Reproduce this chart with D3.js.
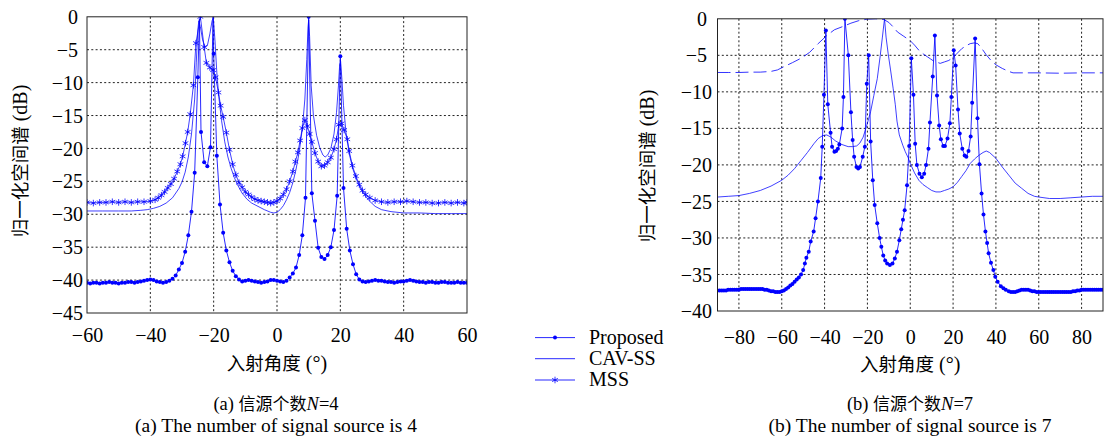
<!DOCTYPE html>
<html>
<head>
<meta charset="utf-8">
<script src="https://cdn.jsdelivr.net/npm/d3@7"></script>
<style>
  body { margin: 0; background: #fff; }
  svg text { font-family: "Liberation Serif", serif; fill: #000; }
  .cjk { font-family: "Noto Sans CJK SC", sans-serif; }
</style>
</head>
<body>
<svg id="chart" width="1104" height="439"></svg>
<script>
// ---- panel (a): N = 4 ----
var xTicksA = [-60, -40, -20, 0, 20, 40, 60];
var yTicksA = [0, -5, -10, -15, -20, -25, -30, -35, -40, -45];

// Proposed, marked samples
var proposedA = [[-60,-40.4],[-59,-40.5],[-58,-40.4],[-57,-40.4],[-56,-40.5],[-55,-40.4],[-54,-40.4],[-53,-40.3],[-52,-40.4],[-51,-40.4],
  [-50,-40.5],[-49,-40.4],[-48,-40.4],[-47,-40.3],[-46,-40.3],[-45,-40.4],[-44,-40.3],[-43,-40.2],[-42,-40.1],[-41,-40.0],
  [-40,-39.9],[-39,-40.0],[-38,-40.2],[-37,-40.3],[-36,-40.4],[-35,-40.3],[-34,-40.1],[-33,-39.8],[-32,-39.3],[-31,-38.4],
  [-30,-37.4],[-29,-35.7],[-28,-33.2],[-27,-29.6],[-26,-23.7],[-25,-9.2],[-24,-17.5],[-23,-22.1],[-22,-22.7],[-21,-19.8],
  [-20,-5.6],[-19,-21.1],[-18,-28.5],[-17,-32.8],[-16,-35.5],[-15,-37.3],[-14,-38.6],[-13,-39.4],[-12,-39.9],[-11,-40.2],
  [-10,-40.1],[-9,-40.0],[-8,-40.1],[-7,-40.2],[-6,-40.3],[-5,-40.4],[-4,-40.3],[-3,-40.2],[-2,-40.0],[-1,-40.0],
  [0,-40.1],[1,-40.2],[2,-40.3],[3,-40.1],[4,-39.6],[5,-39.0],[6,-38.1],[7,-36.2],[8,-33.2],[9,-27.5],
  [10,0],[11,-26.8],[12,-31.0],[13,-35.1],[14,-36.5],[15,-36.8],[16,-36.2],[17,-35.0],[18,-32.4],[19,-27.2],
  [20,-6.0],[21,-26.0],[22,-32.2],[23,-35.5],[24,-37.6],[25,-39.1],[26,-39.9],[27,-40.2],[28,-40.3],[29,-40.2],
  [30,-40.1],[31,-40.0],[32,-40.1],[33,-40.1],[34,-40.2],[35,-40.3],[36,-40.3],[37,-40.4],[38,-40.3],[39,-40.2],
  [40,-40.2],[41,-40.1],[42,-40.0],[43,-40.1],[44,-40.2],[45,-40.3],[46,-40.3],[47,-40.4],[48,-40.3],[49,-40.3],
  [50,-40.4],[51,-40.4],[52,-40.3],[53,-40.3],[54,-40.4],[55,-40.4],[56,-40.4],[57,-40.3],[58,-40.4],[59,-40.4],[60,-40.4]];
// Proposed, peak samples between the marks (line only)
var proposedPeaksA = [[-24.5,-0.3],[-20.2,0]];

var cavA = [[-60,-29.5],[-55,-29.5],[-50,-29.5],[-46,-29.5],[-43,-29.4],[-41,-29.3],[-39,-29.1],[-37,-28.8],[-35,-28.3],[-33,-27.5],
  [-31,-26.1],[-30,-25.1],[-29,-23.6],[-28,-21.3],[-27,-17.8],[-26,-12.5],[-25.5,-7.0],[-25,-2.0],[-24.7,-0.6],[-24.2,-1.5],
  [-23.5,-3.5],[-22.8,-4.6],[-22,-4.4],[-21.2,-2.6],[-20.5,-0.6],[-20.1,-0.2],[-19.6,-3.5],[-19,-8.5],[-18.3,-12.5],[-17.5,-15.8],
  [-16.5,-19.0],[-15.5,-21.3],[-14.5,-23.0],[-13.5,-24.4],[-12.5,-25.5],[-11,-26.8],[-9.5,-27.7],[-8,-28.3],[-6,-28.8],[-4,-29.3],
  [-2,-29.7],[-1,-29.8],[0,-29.7],[1,-29.3],[2,-28.7],[3,-27.8],[4,-26.7],[5,-25.2],[6,-23.2],[7,-20.6],
  [8,-17.0],[8.8,-12.5],[9.4,-6.5],[9.8,-1.5],[10,-0.5],[10.3,-3.0],[10.8,-10.5],[11.5,-15.0],[12.5,-18.0],[13.5,-19.9],
  [14.5,-21.0],[15.2,-21.3],[16,-21.0],[17,-20.0],[18,-17.8],[18.8,-14.5],[19.4,-10.5],[19.8,-7.2],[20.1,-6.8],[20.5,-9.5],
  [21,-13.5],[21.8,-17.6],[22.8,-20.8],[24,-23.2],[25.5,-25.2],[27,-26.6],[29,-27.9],[31,-28.8],[33,-29.3],[36,-29.6],
  [40,-29.8],[45,-29.8],[50,-29.9],[55,-29.9],[60,-29.9]];

var mssA = [[-60,-28.2],[-58,-28.3],[-56,-28.2],[-54,-28.2],[-52,-28.1],[-50,-28.2],[-48,-28.1],[-46,-28.2],[-44,-28.1],[-42,-28.1],
  [-40,-28.0],[-38.5,-27.8],[-37.5,-27.5],[-36.5,-27.1],[-35.5,-26.6],[-34.5,-26.0],[-33.5,-25.4],[-32.5,-24.6],[-31.5,-23.5],[-30.5,-22.4],
  [-29.8,-21.2],[-28.9,-19.2],[-28.2,-17.5],[-27.4,-14.8],[-26.4,-10.4],[-25.6,-4.0],[-24.2,0],[-23,-4.6],[-22.3,-7.0],[-21.2,-7.7],
  [-20.2,-8.1],[-19.4,-9.2],[-18.5,-11.5],[-17.8,-13.5],[-17,-15.2],[-16,-17.6],[-15,-20.2],[-14,-22.4],[-13,-24.0],[-12,-25.2],
  [-11,-25.9],[-10,-26.6],[-9,-27.0],[-8,-27.4],[-7,-27.7],[-6,-27.9],[-5,-28.0],[-4,-28.1],[-3,-28.2],[-2,-28.3],
  [-1,-28.2],[0,-28.0],[1,-27.6],[2,-27.0],[3,-26.2],[4,-25.0],[5,-23.5],[5.8,-22.0],[6.6,-20.6],[7.3,-18.8],
  [8,-16.9],[8.8,-15.7],[9.6,-16.6],[10.3,-17.8],[11,-19.0],[12,-20.7],[13,-22.0],[14,-22.7],[15,-22.6],[16,-22.1],
  [17,-21.4],[18,-20.1],[18.8,-18.6],[19.5,-16.4],[20.4,-16.2],[21.2,-17.2],[22.2,-18.6],[22.8,-20.4],[23.8,-22.6],[24.9,-24.2],
  [26,-25.5],[27,-26.4],[28,-27.0],[29.3,-27.5],[31,-27.9],[33,-28.1],[35,-28.2],[37,-28.1],[39,-28.1],[41,-28.0],
  [43,-28.1],[45,-28.2],[47,-28.2],[49,-28.3],[51,-28.3],[53,-28.2],[55,-28.3],[57,-28.2],[59,-28.3],[60,-28.2]];

// ---- panel (b): N = 7 ----
var xTicksB = [-80, -60, -40, -20, 0, 20, 40, 60, 80];
var yTicksB = [0, -5, -10, -15, -20, -25, -30, -35, -40];

var proposedB = [[-90,-37.2],[-89,-37.2],[-88,-37.2],[-87,-37.2],[-86,-37.2],[-85,-37.1],[-84,-37.1],[-83,-37.1],[-82,-37.1],[-81,-37.1],
  [-80,-37.1],[-79,-37.0],[-78,-37.0],[-77,-37.0],[-76,-37.0],[-75,-37.0],[-74,-37.0],[-73,-37.0],[-72,-37.0],[-71,-37.0],
  [-70,-37.0],[-69,-37.0],[-68,-37.1],[-67,-37.1],[-66,-37.2],[-65,-37.3],[-64,-37.3],[-63,-37.4],[-62,-37.4],[-61,-37.4],
  [-60,-37.3],[-59,-37.2],[-58,-37.0],[-57,-36.8],[-56,-36.5],[-55,-36.3],[-54,-36.0],[-53,-35.7],[-52,-35.4],[-51,-35.0],
  [-50,-34.4],[-49.2,-33.5],[-48.5,-32.7],[-47.4,-31.9],[-46.5,-30.5],[-45.1,-29.1],[-44.2,-27.3],[-43.1,-25.0],[-41.8,-21.8],[-41.1,-17.5],
  [-40.3,-10.4],[-39.4,-1.6],[-38.5,-11.7],[-37.2,-15.6],[-36.5,-17.5],[-35.4,-18.2],[-34.6,-18.1],[-33.8,-17.8],[-33.1,-17.2],[-31.8,-15.0],
  [-31.2,-10.7],[-30.5,0],[-28.9,-5.0],[-27.7,-12.8],[-26.9,-16.6],[-26.2,-18.9],[-25.1,-20.3],[-24.3,-20.5],[-23.5,-20.3],[-22.2,-18.9],
  [-21.2,-17.5],[-20.3,-8.9],[-19.4,-5.0],[-18.5,-16.8],[-17.5,-22.1],[-16.6,-25.5],[-15.4,-28.0],[-14.3,-30.0],[-13.5,-31.2],[-12.6,-32.4],
  [-11.7,-33.1],[-10.8,-33.5],[-9.5,-33.7],[-8.3,-33.5],[-7.2,-32.8],[-6.2,-31.9],[-5.1,-30.3],[-4.2,-28.8],[-3.4,-27.5],[-2.6,-26.2],
  [-1.5,-22.8],[-0.5,-17.4],[0.5,-5.4],[1.5,-10.4],[2.3,-17.1],[3.1,-20.0],[4.3,-21.2],[5.4,-21.7],[6.5,-21.2],[7.4,-20.0],
  [8.5,-17.8],[9.2,-14.2],[10.5,-7.9],[11.5,-2.3],[12.5,-10.5],[13.5,-14.6],[14.3,-16.5],[15.4,-17.4],[16.2,-17.4],[17.4,-16.4],
  [18.5,-14.3],[19.2,-10.7],[20.3,-4.3],[21.2,-6.4],[22.3,-12.4],[23.1,-15.7],[24.3,-17.8],[25.4,-18.7],[26.2,-18.9],[27.2,-18.1],
  [28.2,-16.1],[28.9,-11.5],[30.3,-2.7],[31.4,-13.6],[32.3,-19.9],[33.3,-23.9],[34.2,-26.8],[35.1,-29.1],[35.9,-30.7],[36.6,-32.1],
  [37.7,-33.4],[38.8,-34.4],[39.7,-35.3],[40.8,-36.0],[42.3,-36.6],[43.5,-36.9],[44.6,-37.1],[46,-37.3],[47,-37.4],[48,-37.4],
  [49,-37.4],[50,-37.3],[51,-37.2],[52,-37.1],[53,-37.1],[54,-37.1],[55,-37.1],[56,-37.2],[57,-37.3],[58,-37.3],
  [59,-37.4],[60,-37.4],[61,-37.4],[62,-37.4],[63,-37.4],[64,-37.4],[65,-37.4],[66,-37.4],[67,-37.4],[68,-37.4],
  [69,-37.4],[70,-37.4],[71,-37.4],[72,-37.4],[73,-37.4],[74,-37.4],[75,-37.4],[76,-37.3],[77,-37.3],[78,-37.2],
  [79,-37.2],[80,-37.1],[81,-37.1],[82,-37.1],[83,-37.1],[84,-37.1],[85,-37.1],[86,-37.1],[87,-37.1],[88,-37.1],[89,-37.1],[90,-37.1]];

var cavB = [[-90,-24.4],[-85,-24.3],[-80,-24.2],[-75,-23.9],[-70,-23.5],[-65,-22.9],[-60,-22.1],[-57,-21.4],[-54,-20.5],[-51,-19.4],
  [-48,-18.3],[-45,-17.1],[-43,-16.4],[-41,-16.0],[-39,-15.9],[-37,-16.2],[-35,-16.7],[-32,-17.2],[-29,-17.5],[-27,-17.5],
  [-25,-17.4],[-23.5,-17.0],[-22,-16.2],[-20.5,-14.8],[-18.5,-12.7],[-17,-10.5],[-15.4,-8.2],[-14,-5.0],[-13,-2.5],[-12.3,-0.7],
  [-12,0],[-11.3,-2.5],[-10.3,-4.8],[-9.2,-7.0],[-8,-9.5],[-7,-11.7],[-6.2,-14.0],[-5.1,-15.9],[-3.5,-17.3],[-2.3,-18.2],
  [-1,-19.0],[0,-19.8],[2,-21.1],[4,-22.1],[6,-22.7],[8,-23.1],[10,-23.5],[12,-23.7],[14,-23.7],[16,-23.5],
  [18,-23.3],[20,-23.0],[22,-22.4],[24,-21.6],[26,-20.8],[28,-19.8],[30,-19.2],[32,-18.7],[34,-18.3],[35.5,-18.1],
  [37,-18.3],[40,-19.1],[43,-20.3],[46,-21.4],[49,-22.5],[52,-23.2],[55,-23.9],[58,-24.3],[60,-24.4],[65,-24.6],
  [70,-24.6],[75,-24.5],[80,-24.4],[85,-24.3],[90,-24.3]];

var mssB = [[-90,-7.35],[-85,-7.35],[-80,-7.35],[-75,-7.3],[-70,-7.3],[-65,-7.2],[-62,-7.0],[-60,-6.7],[-55,-6.0],[-51,-5.4],
  [-47,-4.6],[-43,-3.4],[-39,-2.3],[-35.4,-1.5],[-31,-1.0],[-27.7,-0.6],[-24,-0.25],[-20,-0.05],[-16,0],[-12.3,-0.1],
  [-10,-0.5],[-8,-1.1],[-6,-1.8],[-3,-2.4],[0,-3.0],[2,-3.6],[4,-4.3],[6,-4.8],[8,-5.2],[9.5,-5.5],
  [11,-5.8],[13,-6.0],[14,-6.1],[16,-5.9],[18,-5.7],[20,-5.3],[22,-4.7],[24,-4.1],[26,-3.7],[28,-3.4],
  [30,-3.3],[31.5,-3.4],[33,-3.9],[35.4,-4.9],[38,-5.8],[40,-6.3],[43,-6.8],[46,-7.2],[48,-7.4],[55,-7.4],
  [60,-7.4],[70,-7.45],[80,-7.4],[90,-7.4]];

var legendNames = ["Proposed", "CAV-SS", "MSS"];

var blue = "#0000ff";
var svg = d3.select("#chart");

function fmt(d) { return d < 0 ? "\u2212" + Math.abs(d) : String(d); }

function starPath(s) {
  var a = s * 0.866, b = s * 0.5;
  return "M0," + (-s) + "L0," + s + "M" + (-a) + "," + (-b) + "L" + a + "," + b +
         "M" + (-a) + "," + b + "L" + a + "," + (-b);
}

function drawPanel(p) {
  var x = d3.scaleLinear().domain(p.xDomain).range(p.xRange);
  var y = d3.scaleLinear().domain([0, p.yTicks[p.yTicks.length - 1]]).range(p.yRange);
  var g = svg.append("g");

  var clipId = "clip" + p.id;
  g.append("clipPath").attr("id", clipId).append("rect")
    .attr("x", p.xRange[0]).attr("y", p.yRange[0])
    .attr("width", p.xRange[1] - p.xRange[0]).attr("height", p.yRange[1] - p.yRange[0]);

  // grid
  g.selectAll(".vg").data(p.xTicks.filter(function(d) { return d > p.xDomain[0] && d < p.xDomain[1]; }))
    .enter().append("line")
    .attr("x1", function(d) { return x(d); }).attr("x2", function(d) { return x(d); })
    .attr("y1", p.yRange[0]).attr("y2", p.yRange[1])
    .attr("stroke", "#222").attr("stroke-width", 1).attr("stroke-dasharray", "2,2.3");
  g.selectAll(".hg").data(p.yTicks.slice(1, -1))
    .enter().append("line")
    .attr("y1", function(d) { return y(d); }).attr("y2", function(d) { return y(d); })
    .attr("x1", p.xRange[0]).attr("x2", p.xRange[1])
    .attr("stroke", "#222").attr("stroke-width", 1).attr("stroke-dasharray", "2,2.3");

  // tick labels
  var ax = g.append("g").attr("transform", "translate(0," + p.yRange[1] + ")")
    .call(d3.axisBottom(x).tickValues(p.xTicks).tickSize(0).tickPadding(p.xPad).tickFormat(fmt));
  var ay = g.append("g").attr("transform", "translate(" + p.xRange[0] + ",0)")
    .call(d3.axisLeft(y).tickValues(p.yTicks).tickSize(0).tickFormat(fmt));
  [ax, ay].forEach(function(a) {
    a.select(".domain").remove();
    a.selectAll("text").attr("font-family", "Liberation Serif").attr("font-size", 20).attr("fill", "#000");
  });
  ay.selectAll("text")
    .attr("x", function(d) { return Math.abs(d) >= 10 ? -p.yPad : -p.yPad - 5; })
    .attr("dy", "0.33em");

  var plot = g.append("g").attr("clip-path", "url(#" + clipId + ")");
  var line = d3.line().x(function(d) { return x(d[0]); }).y(function(d) { return y(d[1]); });

  plot.append("path").datum(p.cav).attr("d", line)
    .attr("fill", "none").attr("stroke", blue).attr("stroke-width", 0.75);

  if (p.mssDashed) {
    plot.append("path").datum(p.mss).attr("d", line)
      .attr("fill", "none").attr("stroke", blue).attr("stroke-width", 0.8)
      .attr("stroke-dasharray", "13,5");
  } else {
    plot.append("path").datum(p.mss).attr("d", line)
      .attr("fill", "none").attr("stroke", blue).attr("stroke-width", 0.75);
    plot.selectAll(".star").data(p.mss).enter().append("path")
      .attr("d", starPath(3.3))
      .attr("transform", function(d) { return "translate(" + x(d[0]) + "," + y(d[1]) + ")"; })
      .attr("stroke", blue).attr("stroke-width", 0.8).attr("fill", "none");
  }

  var propLine = p.proposed.concat(p.proposedPeaks || []).sort(function(a, b) { return a[0] - b[0]; });
  plot.append("path").datum(propLine).attr("d", line)
    .attr("fill", "none").attr("stroke", blue).attr("stroke-width", 0.85);
  plot.selectAll(".dot").data(p.proposed).enter().append("circle")
    .attr("cx", function(d) { return x(d[0]); }).attr("cy", function(d) { return y(d[1]); })
    .attr("r", 2).attr("fill", blue);

  // frame
  g.append("rect").attr("x", p.xRange[0]).attr("y", p.yRange[0])
    .attr("width", p.xRange[1] - p.xRange[0]).attr("height", p.yRange[1] - p.yRange[0])
    .attr("fill", "none").attr("stroke", "#222").attr("stroke-width", 1);

  // axis titles
  var cx = (p.xRange[0] + p.xRange[1]) / 2;
  var xt = g.append("text").attr("x", cx).attr("y", p.xTitleY).attr("text-anchor", "middle");
  xt.append("tspan").attr("class", "cjk").attr("font-size", 18.5).text("入射角度");
  xt.append("tspan").attr("font-size", 20).text(" (°)");

  var yt = g.append("text").attr("text-anchor", "middle")
    .attr("transform", "translate(" + p.yTitleX + "," + p.yTitleY + ") rotate(-90)");
  yt.append("tspan").attr("class", "cjk").attr("font-size", 18.5).text("归一化空间谱");
  yt.append("tspan").attr("font-size", 20).text(" (dB)");

  // captions
  var c1 = g.append("text").attr("x", p.capX).attr("y", 410).attr("text-anchor", "middle").attr("font-size", 18.5);
  c1.append("tspan").text("(" + p.id + ") ");
  c1.append("tspan").attr("class", "cjk").attr("font-size", 17).text("信源个数");
  c1.append("tspan").attr("font-style", "italic").text("N");
  c1.append("tspan").text("=" + p.n);
  g.append("text").attr("x", p.capX).attr("y", 431.5).attr("text-anchor", "middle").attr("font-size", 19.5)
    .text("(" + p.id + ") The number of signal source is " + p.n);
}

drawPanel({
  id: "a", n: 4,
  xDomain: [-60, 60], xRange: [87, 467], yRange: [16.8, 313],
  xTicks: xTicksA, yTicks: yTicksA, xPad: 14.5, yPad: 4,
  proposed: proposedA, proposedPeaks: proposedPeaksA, cav: cavA, mss: mssA, mssDashed: false,
  xTitleY: 369.5, yTitleX: 27, yTitleY: 161, capX: 276
});

drawPanel({
  id: "b", n: 7,
  xDomain: [-90, 90], xRange: [717.5, 1103], yRange: [18.8, 311],
  xTicks: xTicksB, yTicks: yTicksB, xPad: 18.5, yPad: 5.5,
  proposed: proposedB, proposedPeaks: [], cav: cavB, mss: mssB, mssDashed: true,
  xTitleY: 371, yTitleX: 654, yTitleY: 166, capX: 910
});

// legend
var legY = [337.6, 358.7, 380];
var leg = svg.append("g");
legendNames.forEach(function(name, i) {
  leg.append("line").attr("x1", 535).attr("x2", 575).attr("y1", legY[i]).attr("y2", legY[i])
    .attr("stroke", blue).attr("stroke-width", 0.85);
  if (i === 0) {
    leg.append("circle").attr("cx", 555).attr("cy", legY[i]).attr("r", 2).attr("fill", blue);
  } else if (i === 2) {
    leg.append("path").attr("d", starPath(3.3)).attr("transform", "translate(555," + legY[i] + ")")
      .attr("stroke", blue).attr("stroke-width", 0.8).attr("fill", "none");
  }
  leg.append("text").attr("x", 589).attr("y", legY[i] + 6).attr("font-size", 20).text(name);
});
</script>
</body>
</html>
